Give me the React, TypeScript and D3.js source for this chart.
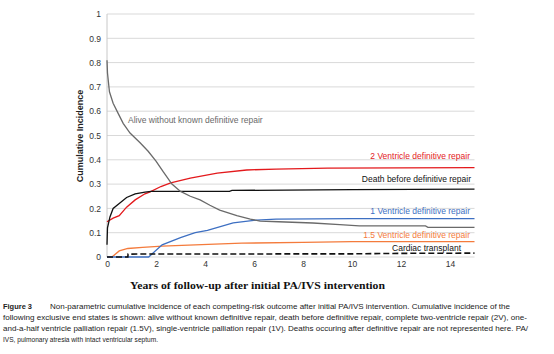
import { useCallback, useEffect, useRef } from 'react';

import { axisBottom, axisLeft, line, scaleLinear, select } from 'd3';

type Point = [number, number];

// years, cumulative incidence
const alive: Point[] = [
  [0, 0.81], [0.02, 0.757], [0.1, 0.68], [0.25, 0.633], [0.46, 0.59],
  [0.66, 0.55], [0.94, 0.51], [1.35, 0.47], [1.68, 0.435], [2.0, 0.395],
  [2.3, 0.35], [2.65, 0.3], [3.0, 0.27], [3.4, 0.25], [3.8, 0.235],
  [4.2, 0.213], [4.6, 0.193], [5.3, 0.17], [5.85, 0.156], [6.25, 0.148],
  [7, 0.145], [8.4, 0.14], [9.5, 0.133], [10.3, 0.128], [13, 0.128],
  [13.1, 0.122], [15, 0.122],
];

const twoV: Point[] = [
  [0, 0.145], [0.25, 0.16], [0.5, 0.17], [0.8, 0.205], [1.15, 0.235],
  [1.55, 0.26], [1.76, 0.268], [2.2, 0.29], [2.6, 0.305], [3.4, 0.325],
  [4.5, 0.345], [5.7, 0.358], [6.9, 0.362], [9, 0.366], [15, 0.368],
];

const death: Point[] = [
  [0, 0.05], [0.02, 0.12], [0.12, 0.165], [0.25, 0.2], [0.5, 0.22],
  [0.8, 0.245], [1.15, 0.26], [1.55, 0.267], [1.8, 0.27], [5, 0.27],
  [5.1, 0.274], [10, 0.277], [15, 0.279],
];

const oneV: Point[] = [
  [0, 0], [1.7, 0], [2.25, 0.05], [3.0, 0.08], [3.6, 0.1], [4.1, 0.11],
  [5.15, 0.14], [6.1, 0.152], [6.9, 0.156], [10, 0.158], [15, 0.158],
];

const oneHalfV: Point[] = [
  [0, 0], [0.2, 0], [0.5, 0.025], [0.85, 0.035], [1.45, 0.04],
  [2.25, 0.045], [3.6, 0.05], [4.4, 0.053], [5.5, 0.057], [8, 0.06],
  [10, 0.063], [15, 0.063],
];

const transplant: Point[] = [
  [0, 0], [0.85, 0], [0.86, 0.012], [10, 0.013], [12, 0.015], [15, 0.016],
];

const xTicks = [0, 2, 4, 6, 8, 10, 12, 14];
const yTicks = [0, 0.1, 0.2, 0.3, 0.4, 0.5, 0.6, 0.7, 0.8, 0.9, 1];

const captionLines = [
  'following exclusive end states is shown: alive without known definitive repair, death before definitive repair, complete two-ventricle repair (2V), one-',
  'and-a-half ventricle palliation repair (1.5V), single-ventricle palliation repair (1V). Deaths occuring after definitive repair are not represented here. PA/',
  'IVS, pulmonary atresia with intact ventricular septum.',
];

const sans = 'Arial, "Liberation Sans", sans-serif';
const narrow = '"Liberation Sans Narrow", "Arial Narrow", Arial, sans-serif';

export default function App() {
  const containerRef = useRef<HTMLDivElement>(null);

  const initChart = useCallback(() => {
    const container = containerRef.current;
    if (!container) return;

    const div = select(container);
    div.select('svg').remove();

    const svg = div
      .append('svg')
      .attr('width', 554)
      .attr('height', 354)
      .style('position', 'absolute')
      .style('left', 0)
      .style('top', 0)
      .style('background', '#fff');

    const x = scaleLinear().domain([0, 15]).range([107, 474.5]);
    const y = scaleLinear().domain([0, 1]).range([257, 14]);

    // grid
    svg
      .append('g')
      .selectAll('line')
      .data(yTicks)
      .join('line')
      .attr('x1', x(0))
      .attr('x2', x(15))
      .attr('y1', (d) => y(d))
      .attr('y2', (d) => y(d))
      .attr('stroke', '#d9d9d9')
      .attr('stroke-width', 1);

    // y axis line
    svg
      .append('line')
      .attr('x1', x(0))
      .attr('x2', x(0))
      .attr('y1', y(1))
      .attr('y2', y(0))
      .attr('stroke', '#c8c8c8');

    // Y axis labels
    svg
      .append('g')
      .attr('transform', `translate(${x(0) - 6},0)`)
      .call(
        axisLeft(y)
          .tickValues(yTicks)
          .tickSize(0)
          .tickPadding(0)
          .tickFormat((d) => String(+(+d).toFixed(1))),
      )
      .call((g) => {
        g.select('.domain').remove();
        g.selectAll('text')
          .attr('font-family', sans)
          .attr('font-size', 8.5)
          .attr('fill', '#333');
      });

    // X axis labels
    svg
      .append('g')
      .attr('transform', `translate(0,${y(0) + 4})`)
      .call(axisBottom(x).tickValues(xTicks).tickSize(0).tickPadding(0))
      .call((g) => {
        g.select('.domain').remove();
        g.selectAll('text')
          .attr('font-family', sans)
          .attr('font-size', 8.5)
          .attr('fill', '#333');
      });

    const path = line<Point>()
      .x((d) => x(d[0]))
      .y((d) => y(d[1]));

    const series = [
      { data: oneHalfV, color: '#f47b3c', dash: null },
      { data: oneV, color: '#3d6fc2', dash: null },
      { data: transplant, color: '#111', dash: '6,3' },
      { data: twoV, color: '#e3191c', dash: null },
      { data: death, color: '#111', dash: null },
      { data: alive, color: '#6a6a6a', dash: null },
    ];

    svg
      .append('g')
      .selectAll('path')
      .data(series)
      .join('path')
      .attr('d', (d) => path(d.data))
      .attr('fill', 'none')
      .attr('stroke', (d) => d.color)
      .attr('stroke-width', (d) => (d.dash ? 1.6 : 1.3))
      .attr('stroke-dasharray', (d) => d.dash);

    // series labels
    const labels = [
      { text: 'Alive without known definitive repair', color: '#6a6a6a', x: 128, y: 123, anchor: 'start' },
      { text: '2 Ventricle definitive repair', color: '#e3191c', x: 470, y: 159, anchor: 'end' },
      { text: 'Death before definitive repair', color: '#111', x: 471, y: 182, anchor: 'end' },
      { text: '1 Ventricle definitive repair', color: '#3d6fc2', x: 470, y: 214, anchor: 'end' },
      { text: '1.5 Ventricle definitive repair', color: '#f47b3c', x: 470, y: 238, anchor: 'end' },
      { text: 'Cardiac transplant', color: '#111', x: 461, y: 251, anchor: 'end' },
    ];
    svg
      .append('g')
      .selectAll('text')
      .data(labels)
      .join('text')
      .attr('x', (d) => d.x)
      .attr('y', (d) => d.y)
      .attr('text-anchor', (d) => d.anchor)
      .attr('font-family', sans)
      .attr('font-size', 8.5)
      .attr('fill', (d) => d.color)
      .text((d) => d.text);

    // axis titles
    svg
      .append('text')
      .attr('transform', 'translate(83,136) rotate(-90)')
      .attr('text-anchor', 'middle')
      .attr('font-family', sans)
      .attr('font-weight', 'bold')
      .attr('font-size', 9)
      .attr('fill', '#222')
      .text('Cumulative Incidence');

    svg
      .append('text')
      .attr('x', 130)
      .attr('y', 289)
      .attr('textLength', 255)
      .attr('lengthAdjust', 'spacingAndGlyphs')
      .attr('font-family', '"Liberation Serif", "Times New Roman", serif')
      .attr('font-weight', 'bold')
      .attr('font-size', 11)
      .attr('fill', '#111')
      .text('Years of follow-up after initial PA/IVS intervention');

    // caption
    const cap = svg
      .append('g')
      .attr('font-family', narrow)
      .attr('font-size', 8)
      .attr('fill', '#222');
    cap
      .append('text')
      .attr('x', 3)
      .attr('y', 308.5)
      .attr('font-weight', 'bold')
      .attr('textLength', 29)
      .attr('lengthAdjust', 'spacingAndGlyphs')
      .text('Figure 3');
    cap
      .append('text')
      .attr('x', 50)
      .attr('y', 308.5)
      .attr('textLength', 460)
      .attr('lengthAdjust', 'spacingAndGlyphs')
      .text(
        'Non-parametric cumulative incidence of each competing-risk outcome after initial PA/IVS intervention. Cumulative incidence of the',
      );
    const widths = [524, 525, 155];
    cap
      .selectAll('text.line')
      .data(captionLines)
      .join('text')
      .attr('class', 'line')
      .attr('x', 3)
      .attr('y', (_, i) => 319.8 + i * 11.3)
      .attr('textLength', (_, i) => widths[i])
      .attr('lengthAdjust', 'spacingAndGlyphs')
      .text((d) => d);
  }, []);

  const destroyChart = useCallback(() => {
    const container = containerRef.current;
    if (!container) return;
    select(container).select('svg').remove();
  }, []);

  useEffect(() => {
    initChart();
    return destroyChart;
  }, [destroyChart, initChart]);

  return <div ref={containerRef} />;
}
